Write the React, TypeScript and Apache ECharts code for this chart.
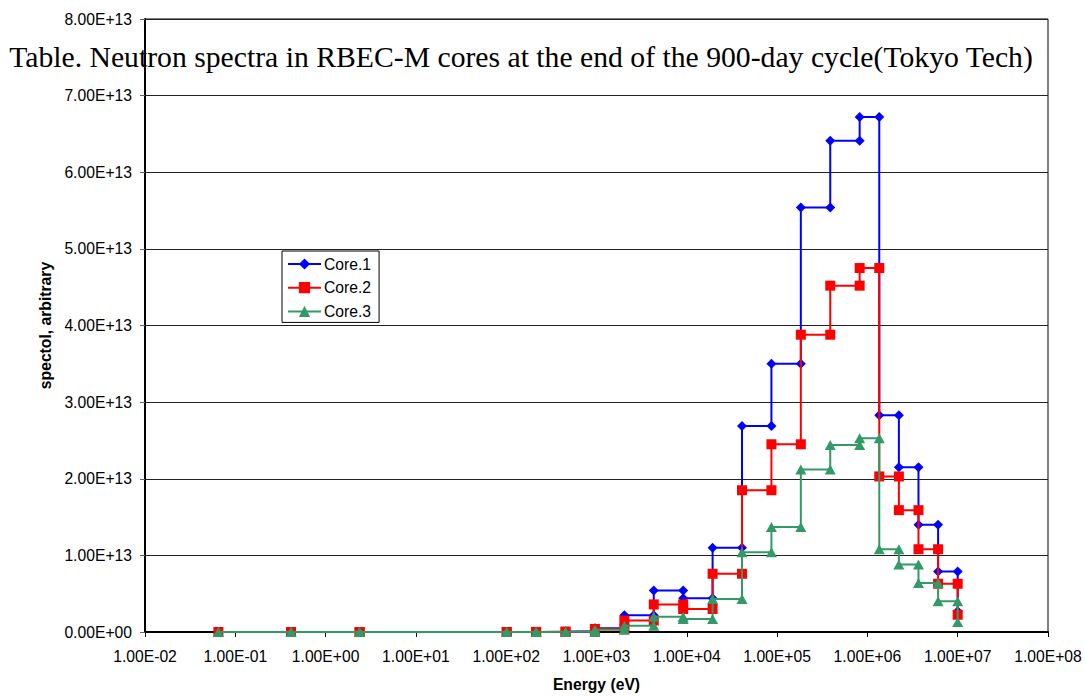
import React, { useEffect, useRef } from "react";
import * as echarts from "echarts";

// Energy group boundaries (eV)
const energyEdges = [
  0.065, 0.414, 2.38, 101.3, 214.5, 454, 961, 2035, 4307, 9119, 19305, 40868,
  86517, 183160, 387740, 820850, 1353400, 2231300, 3678800, 6065300, 10000000,
];

// Group fluxes (one per group, low -> high energy)
const core1 = [
  0, 0, 0, 0, 0.03e12, 0.1e12, 0.5e12, 2.2e12, 5.4e12, 4.4e12, 1.1e13, 2.69e13,
  3.5e13, 5.54e13, 6.41e13, 6.72e13, 2.83e13, 2.15e13, 1.4e13, 0.79e13,
];
const core2 = [
  0, 0, 0, 0, 0.02e12, 0.05e12, 0.4e12, 1.5e12, 3.6e12, 3.0e12, 0.76e13, 1.85e13,
  2.45e13, 3.88e13, 4.52e13, 4.75e13, 2.03e13, 1.59e13, 1.08e13, 0.63e13,
];
const core3 = [
  0, 0, 0, 0, 0.02e12, 0.04e12, 0.3e12, 0.8e12, 2.0e12, 1.7e12, 0.43e13, 1.04e13,
  1.37e13, 2.12e13, 2.44e13, 2.53e13, 1.08e13, 0.88e13, 0.64e13, 0.4e13,
];
// Last plotted point at the top edge
const endValues = [2.7e12, 2.25e12, 1.3e12];

const seriesNames = ["Core.1", "Core.2", "Core.3"];
const seriesColors = ["#0000FF", "#FF0000", "#339966"];
const seriesSymbols = ["diamond", "rect", "triangle"];

const titleText =
  "Table. Neutron spectra in RBEC-M cores at the end of the 900-day cycle(Tokyo Tech)";
const xAxisName = "Energy (eV)";
const yAxisName = "spectol, arbitrary";

function stepData(values: number[], endVal: number): number[][] {
  const out: number[][] = [];
  for (let i = 0; i < values.length; i++) {
    out.push([energyEdges[i], values[i]]);
    out.push([energyEdges[i + 1], values[i]]);
  }
  out.push([energyEdges[energyEdges.length - 1], endVal]);
  return out;
}

function sci(v: number): string {
  if (v === 0) return "0.00E+00";
  const e = Math.floor(Math.log10(Math.abs(v)) + 1e-9);
  const m = v / Math.pow(10, e);
  return (
    m.toFixed(2) + "E" + (e < 0 ? "-" : "+") + String(Math.abs(e)).padStart(2, "0")
  );
}

const FONT = "Arial, 'Liberation Sans', sans-serif";
const FS = 15.7;

export default function App() {
  const ref = useRef<HTMLDivElement>(null);
  useEffect(() => {
    if (!ref.current) return;
    const chart = echarts.init(ref.current, undefined, { renderer: "svg" });
    const all = [core1, core2, core3];
    chart.setOption({
      animation: false,
      backgroundColor: "#ffffff",
      textStyle: { fontFamily: FONT },
      grid: {
        left: 145,
        width: 903,
        top: 19,
        height: 615,
        show: true,
        borderColor: "#000",
        borderWidth: 1,
      },
      graphic: [
        {
          type: "text",
          x: 521,
          y: 57,
          z: 100,
          style: {
            text: titleText,
            font: "29.7px 'Liberation Serif', 'Times New Roman', serif",
            fill: "#000",
            textAlign: "center",
            textVerticalAlign: "middle",
          },
        },
      ],
      legend: {
        left: 282,
        top: 251,
        orient: "vertical",
        data: seriesNames,
        borderColor: "#000",
        borderWidth: 1,
        padding: [5, 8, 3, 5],
        itemWidth: 33,
        itemHeight: 14,
        itemGap: 7.7,
        textStyle: { fontSize: FS, color: "#000", fontFamily: FONT, padding: [0, 0, 0, -2] },
      },
      xAxis: {
        type: "log",
        logBase: 10,
        min: 0.01,
        max: 1e8,
        interval: 1,
        splitNumber: 10,
        name: xAxisName,
        nameLocation: "middle",
        nameGap: 44,
        nameTextStyle: { fontSize: FS, fontWeight: "bold", color: "#000", fontFamily: FONT },
        axisLine: { show: true, lineStyle: { color: "#000", width: 2 } },
        axisTick: { show: true, length: 5, lineStyle: { color: "#000" } },
        axisLabel: {
          fontSize: FS,
          color: "#000",
          margin: 16,
          fontFamily: FONT,
          formatter: (v: number) => sci(v),
        },
        splitLine: { show: false },
        minorTick: { show: false },
      },
      yAxis: {
        type: "value",
        min: 0,
        max: 8e13,
        interval: 1e13,
        name: yAxisName,
        nameLocation: "middle",
        nameGap: 84,
        nameTextStyle: { fontSize: FS, fontWeight: "bold", color: "#000", fontFamily: FONT },
        axisLine: { show: true, lineStyle: { color: "#000", width: 2 } },
        axisTick: { show: true, length: 5, lineStyle: { color: "#666" } },
        axisLabel: {
          fontSize: FS,
          color: "#000",
          margin: 13,
          fontFamily: FONT,
          formatter: (v: number) => sci(v),
        },
        splitLine: { show: true, lineStyle: { color: "#222", width: 1 } },
      },
      series: all.map((vals, i) => ({
        name: seriesNames[i],
        type: "line",
        data: stepData(vals, endValues[i]),
        symbol: seriesSymbols[i],
        symbolSize: i === 0 ? 10 : i === 1 ? 10 : [11, 10],
        showSymbol: true,
        showAllSymbol: true,
        color: seriesColors[i],
        lineStyle: { color: seriesColors[i], width: 2 },
        itemStyle: { color: seriesColors[i] },
        z: 2 + i,
      })),
    });
    return () => chart.dispose();
  }, []);
  return (
    <div
      ref={ref}
      style={{ position: "absolute", left: 0, top: 0, width: 1085, height: 697 }}
    />
  );
}
